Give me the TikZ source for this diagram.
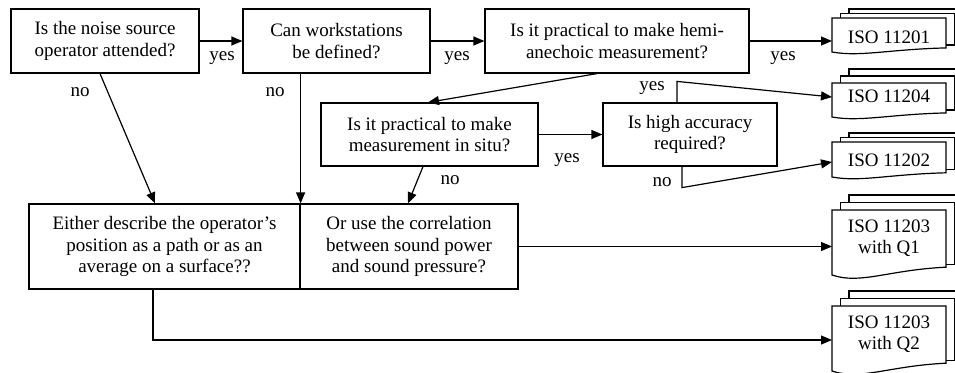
\documentclass[tikz,border=0pt]{standalone}
\usepackage{fontspec}
\setmainfont{Liberation Serif}
\usetikzlibrary{arrows.meta,calc}
\newcommand\isodoc[5]{% x0, y0, h, dy, name
  \pgfmathsetmacro\docya{#2+0.88*#3}
  \filldraw[docline] (#1+17,#2-2*#4) rectangle (#1+131,\docya-9);
  \filldraw[docline] (#1+8.5,#2-#4) rectangle (#1+122.5,\docya-3);
  \filldraw[docline] (#1,#2) -- (#1+114,#2) -- (#1+114,\docya)
     .. controls (#1+57,#2+0.92*#3) and (#1+28.5,#2+1.15*#3) .. (#1,#2+#3) -- cycle;
  \coordinate (#5) at (#1,#2);
}
\begin{document}
\begin{tikzpicture}[x=1pt,y=-1pt,
  every node/.style={font={\fontsize{19}{21.5}\selectfont}, inner sep=0pt},
  box/.style={draw, line width=1.2pt, align=center, fill=white},
  arr/.style={line width=1.2pt, -{Triangle[length=11pt,width=9pt]}},
  ln/.style={line width=1.2pt},
  docline/.style={line width=1.2pt, fill=white, draw=black}]
\useasboundingbox (0,0) rectangle (955,372);

% documents
\isodoc{832}{18}{34}{4.5}{d1}
\isodoc{832}{83}{34}{7}{d2}
\isodoc{832}{142}{35}{4.5}{d3}
\isodoc{832}{210}{65}{7.5}{d4}
\isodoc{832}{306}{65}{7.5}{d5}
\node[align=center] (dt1) at (889,37) {ISO 11201};
\node[align=center] (dt2) at (889,96) {ISO 11204};
\node[align=center] (dt3) at (889,160) {ISO 11202};
\node[align=center] (dt4) at (889,238) {ISO 11203\\with Q1};
\node[align=center] (dt5) at (889,334) {ISO 11203\\with Q2};

% boxes
\node[box, minimum width=188pt, minimum height=64pt] (A) at (105,41) {Is the noise source\\operator attended?};
\node[box, minimum width=187pt, minimum height=64pt] (B) at (336.5,41) {Can workstations\\be defined?};
\node[box, minimum width=264pt, minimum height=64pt] (C) at (617,41) {Is it practical to make hemi-\\anechoic measurement?};
\node[box, minimum width=217pt, minimum height=63pt] (D) at (429.5,134.5) {Is it practical to make\\measurement in situ?};
\node[box, minimum width=174pt, minimum height=63pt] (E) at (690,134.5) {Is high accuracy\\required?};
\node[box, minimum width=271pt, minimum height=85pt] (G) at (164.5,246.5) {Either describe the operator’s\\position as a path or as an\\average on a surface??};
\node[box, minimum width=218pt, minimum height=85pt] (F) at (409,246.5) {Or use the correlation\\between sound power\\and sound pressure?};

% arrow targets
\coordinate (t1) at (832,41);
\coordinate (t2) at (832,97);
\coordinate (t3) at (832,162);
\coordinate (t4) at (832,246.5);
\coordinate (t5) at (832,340);

% connectors
\draw[arr] (A.east) -- (B.west);
\draw[arr] (B.east) -- (C.west);
\draw[arr] (C.east) -- (t1);
\draw[arr] ([xshift=-20pt]C.south) -- ([xshift=-1.5pt]D.north);
\draw[arr] (D.east) -- (E.west);
\draw[arr] ([xshift=-13pt]E.north) -- ++(0,-21) -- (t2);
\draw[arr] ([xshift=-8pt]E.south) -- ++(0,21) -- (t3);
\draw[arr] ([xshift=-6.5pt]D.south) -- ([xshift=-1pt]F.north);
\draw[arr] ([xshift=-5pt]A.south) -- ([xshift=-9.5pt]G.north);
\draw[arr] (B.south -| G.north east) -- (G.north east);
\draw[arr] (F.east) -- (t4);
\draw[arr] ([xshift=-11.5pt]G.south) |- (t5);

% labels
\node (y1) at (222,58) {yes};
\node (y2) at (457,58) {yes};
\node (y3) at (783,58) {yes};
\node (y4) at (567,160) {yes};
\node (y5) at (652,88) {yes};
\node (n1) at (80,92) {no};
\node (n2) at (275,92) {no};
\node (n3) at (450,180) {no};
\node (n4) at (662,182) {no};
\end{tikzpicture}
\end{document}
